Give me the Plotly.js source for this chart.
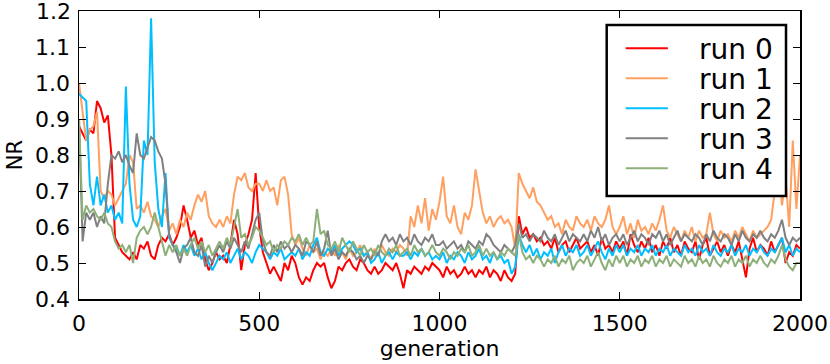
<!DOCTYPE html>
<html>
<head>
<meta charset="utf-8">
<script src="https://cdn.plot.ly/plotly-3.0.1.min.js"></script>
<style>
  html, body { margin: 0; padding: 0; background: #fff; }
  #myDiv { width: 830px; height: 364px; }
</style>
</head>
<body>
<div id="myDiv"></div>
<script>
// generation sampled every 10 steps (0 .. 2000)
var step = 10;
var generation = [];
for (var g = 0; g <= 2000; g += step) generation.push(g);

var runNames = ['run 0', 'run 1', 'run 2', 'run 3', 'run 4'];
var runColors = ['#ff0000', '#ffa060', '#00bfff', '#808080', '#8db07a'];
var xTicks = [0, 500, 1000, 1500, 2000];
var yTicks = [0.4, 0.5, 0.6, 0.7, 0.8, 0.9, 1.0, 1.1, 1.2];
var yTickText = ['0.4', '0.5', '0.6', '0.7', '0.8', '0.9', '1.0', '1.1', '1.2'];

var run0 = [
  0.88,0.86,0.84,0.87,0.86,0.95,0.93,0.89,0.91,0.80,
  0.57,0.55,0.53,0.52,0.51,0.53,0.51,0.55,0.54,0.56,
  0.52,0.51,0.55,0.57,0.56,0.58,0.55,0.57,0.60,0.66,
  0.62,0.57,0.59,0.55,0.57,0.51,0.48,0.50,0.53,0.51,
  0.52,0.50,0.55,0.62,0.58,0.48,0.55,0.58,0.62,0.75,
  0.60,0.53,0.50,0.47,0.49,0.47,0.45,0.50,0.48,0.52,
  0.50,0.46,0.44,0.46,0.45,0.48,0.50,0.49,0.50,0.46,
  0.43,0.45,0.49,0.48,0.50,0.51,0.49,0.48,0.51,0.50,
  0.48,0.47,0.49,0.47,0.48,0.50,0.49,0.48,0.50,0.47,
  0.43,0.48,0.47,0.49,0.48,0.47,0.49,0.48,0.50,0.49,
  0.48,0.46,0.49,0.47,0.48,0.46,0.47,0.49,0.47,0.48,
  0.46,0.48,0.47,0.49,0.46,0.48,0.47,0.45,0.48,0.46,
  0.45,0.47,0.63,0.58,0.60,0.57,0.58,0.56,0.57,0.55,
  0.56,0.54,0.57,0.53,0.55,0.56,0.53,0.55,0.57,0.54,
  0.55,0.56,0.53,0.55,0.52,0.57,0.54,0.55,0.53,0.56,
  0.54,0.56,0.52,0.58,0.55,0.53,0.56,0.54,0.57,0.53,
  0.55,0.52,0.56,0.54,0.57,0.53,0.55,0.52,0.56,0.54,
  0.53,0.56,0.51,0.55,0.57,0.52,0.54,0.56,0.53,0.55,
  0.52,0.55,0.53,0.56,0.51,0.46,0.54,0.57,0.53,0.55,
  0.54,0.52,0.56,0.53,0.55,0.57,0.50,0.53,0.52,0.55,
  0.54
];

var run1 = [
  1.00,0.92,0.84,0.87,0.88,0.92,0.70,0.68,0.70,0.69,
  0.66,0.68,0.70,0.72,0.80,0.78,0.65,0.66,0.64,0.67,
  0.63,0.62,0.60,0.63,0.65,0.59,0.61,0.58,0.62,0.60,
  0.64,0.62,0.66,0.69,0.67,0.70,0.63,0.61,0.60,0.62,
  0.60,0.63,0.61,0.69,0.74,0.73,0.75,0.71,0.70,0.72,
  0.72,0.70,0.73,0.70,0.71,0.66,0.73,0.74,0.69,0.58,
  0.55,0.57,0.54,0.52,0.55,0.53,0.54,0.51,0.53,0.52,
  0.54,0.52,0.55,0.53,0.51,0.54,0.52,0.53,0.55,0.52,
  0.53,0.51,0.54,0.52,0.55,0.53,0.52,0.54,0.53,0.55,
  0.54,0.52,0.63,0.60,0.66,0.61,0.68,0.59,0.65,0.62,
  0.67,0.74,0.63,0.61,0.66,0.60,0.58,0.64,0.62,0.66,
  0.76,0.70,0.64,0.61,0.63,0.60,0.62,0.63,0.61,0.62,
  0.60,0.54,0.75,0.72,0.70,0.68,0.71,0.67,0.66,0.64,
  0.62,0.63,0.60,0.61,0.58,0.62,0.60,0.59,0.63,0.61,
  0.60,0.62,0.59,0.63,0.61,0.60,0.62,0.66,0.60,0.58,
  0.60,0.63,0.58,0.61,0.57,0.62,0.59,0.60,0.58,0.61,
  0.59,0.62,0.66,0.59,0.57,0.60,0.58,0.56,0.59,0.57,
  0.60,0.56,0.59,0.57,0.58,0.64,0.58,0.56,0.59,0.57,
  0.58,0.56,0.59,0.57,0.60,0.58,0.56,0.59,0.57,0.58,
  0.59,0.60,0.62,0.70,0.78,0.66,0.74,0.60,0.84,0.65,
  0.80
];

var run2 = [
  0.97,0.96,0.95,0.72,0.66,0.74,0.66,0.69,0.64,0.66,
  0.62,0.64,0.61,0.99,0.72,0.62,0.60,0.63,0.84,0.80,
  1.18,0.78,0.65,0.60,0.75,0.57,0.55,0.54,0.52,0.55,
  0.53,0.55,0.52,0.54,0.51,0.53,0.50,0.48,0.50,0.52,
  0.51,0.53,0.50,0.52,0.54,0.51,0.53,0.52,0.50,0.53,
  0.55,0.54,0.53,0.51,0.53,0.52,0.54,0.51,0.52,0.53,
  0.52,0.54,0.51,0.53,0.52,0.55,0.57,0.53,0.52,0.54,
  0.53,0.55,0.52,0.54,0.55,0.56,0.55,0.53,0.54,0.52,
  0.53,0.50,0.51,0.53,0.50,0.52,0.53,0.51,0.53,0.52,
  0.52,0.53,0.51,0.53,0.52,0.54,0.52,0.53,0.51,0.52,
  0.51,0.53,0.50,0.52,0.51,0.53,0.52,0.50,0.53,0.51,
  0.52,0.54,0.51,0.52,0.50,0.53,0.51,0.52,0.50,0.51,
  0.47,0.49,0.58,0.55,0.53,0.55,0.52,0.54,0.51,0.53,
  0.52,0.54,0.50,0.53,0.55,0.52,0.54,0.53,0.55,0.52,
  0.53,0.55,0.52,0.54,0.56,0.53,0.51,0.54,0.52,0.55,
  0.53,0.55,0.52,0.54,0.53,0.55,0.52,0.54,0.53,0.55,
  0.52,0.54,0.53,0.55,0.52,0.54,0.53,0.52,0.55,0.53,
  0.54,0.52,0.55,0.53,0.54,0.52,0.55,0.53,0.52,0.54,
  0.53,0.55,0.52,0.54,0.53,0.55,0.52,0.54,0.53,0.55,
  0.53,0.52,0.54,0.53,0.55,0.57,0.53,0.55,0.52,0.54,
  0.53
];

var run3 = [
  0.90,0.56,0.64,0.62,0.64,0.60,0.63,0.61,0.72,0.80,
  0.79,0.81,0.78,0.80,0.77,0.75,0.86,0.80,0.79,0.82,
  0.85,0.84,0.81,0.79,0.72,0.58,0.55,0.53,0.50,0.54,
  0.55,0.57,0.53,0.52,0.55,0.49,0.52,0.50,0.53,0.55,
  0.53,0.56,0.54,0.57,0.55,0.53,0.56,0.54,0.58,0.62,
  0.64,0.56,0.53,0.52,0.55,0.53,0.56,0.54,0.55,0.53,
  0.55,0.54,0.52,0.56,0.55,0.53,0.56,0.52,0.54,0.59,
  0.52,0.54,0.51,0.53,0.52,0.54,0.53,0.51,0.52,0.50,
  0.52,0.51,0.53,0.52,0.56,0.58,0.56,0.57,0.55,0.58,
  0.56,0.57,0.55,0.58,0.56,0.55,0.57,0.56,0.58,0.55,
  0.55,0.56,0.54,0.55,0.56,0.54,0.55,0.53,0.56,0.55,
  0.54,0.56,0.55,0.58,0.57,0.55,0.54,0.53,0.55,0.54,
  0.53,0.55,0.61,0.57,0.58,0.56,0.58,0.57,0.56,0.59,
  0.57,0.56,0.58,0.55,0.57,0.59,0.56,0.58,0.57,0.56,
  0.58,0.56,0.59,0.57,0.60,0.56,0.58,0.55,0.57,0.58,
  0.56,0.58,0.55,0.57,0.59,0.56,0.58,0.57,0.55,0.58,
  0.57,0.59,0.56,0.58,0.55,0.57,0.59,0.56,0.58,0.57,
  0.56,0.58,0.57,0.55,0.58,0.56,0.59,0.57,0.56,0.58,
  0.57,0.55,0.58,0.56,0.59,0.57,0.56,0.58,0.57,0.59,
  0.57,0.56,0.58,0.57,0.59,0.62,0.57,0.55,0.57,0.56,
  0.57
];

var run4 = [
  0.90,0.62,0.66,0.64,0.65,0.63,0.62,0.64,0.61,0.60,
  0.56,0.54,0.55,0.53,0.55,0.50,0.57,0.59,0.60,0.58,
  0.60,0.64,0.60,0.56,0.52,0.55,0.53,0.55,0.52,0.54,
  0.52,0.55,0.57,0.54,0.56,0.53,0.55,0.52,0.54,0.56,
  0.54,0.57,0.55,0.60,0.65,0.57,0.58,0.55,0.57,0.60,
  0.59,0.57,0.55,0.56,0.53,0.55,0.54,0.56,0.55,0.57,
  0.56,0.58,0.55,0.57,0.55,0.56,0.65,0.58,0.59,0.55,
  0.54,0.56,0.53,0.57,0.55,0.53,0.56,0.54,0.52,0.55,
  0.53,0.54,0.52,0.55,0.53,0.52,0.54,0.53,0.55,0.52,
  0.53,0.54,0.52,0.55,0.53,0.54,0.52,0.53,0.55,0.53,
  0.52,0.54,0.53,0.51,0.53,0.52,0.54,0.53,0.55,0.52,
  0.53,0.55,0.52,0.54,0.52,0.53,0.51,0.53,0.52,0.54,
  0.53,0.52,0.58,0.53,0.51,0.52,0.50,0.52,0.51,0.49,
  0.51,0.50,0.52,0.49,0.51,0.50,0.52,0.48,0.50,0.51,
  0.50,0.52,0.49,0.51,0.53,0.50,0.48,0.51,0.49,0.52,
  0.50,0.52,0.49,0.51,0.50,0.52,0.49,0.51,0.50,0.52,
  0.49,0.51,0.50,0.52,0.49,0.51,0.50,0.49,0.52,0.50,
  0.51,0.49,0.52,0.50,0.51,0.49,0.52,0.50,0.49,0.51,
  0.50,0.52,0.49,0.51,0.50,0.52,0.49,0.51,0.50,0.52,
  0.50,0.49,0.51,0.50,0.52,0.55,0.51,0.49,0.48,0.50,
  0.50
];

var runs = [run0, run1, run2, run3, run4];

var data = runs.map(function (vals, i) {
  return {
    x: generation,
    y: vals,
    mode: 'lines',
    name: runNames[i],
    line: { color: runColors[i], width: 2 }
  };
});

// legend box drawn by hand (matplotlib style: line sample, wide gap, big text)
var legBox = { x0: 0.7319, x1: 0.9806, y0: 0.3576, y1: 0.9514 };
var legRowY = [0.8705, 0.7663, 0.6622, 0.5580, 0.4538];
var shapes = [{
  type: 'rect', xref: 'paper', yref: 'paper',
  x0: legBox.x0, x1: legBox.x1, y0: legBox.y0, y1: legBox.y1,
  fillcolor: '#fff', line: { color: '#000', width: 2.5 }, layer: 'above'
}];
var annotations = [];
runNames.forEach(function (name, i) {
  shapes.push({
    type: 'line', xref: 'paper', yref: 'paper',
    x0: 0.7583, x1: 0.8167, y0: legRowY[i], y1: legRowY[i],
    line: { color: runColors[i], width: 2 }, layer: 'above'
  });
  annotations.push({
    xref: 'paper', yref: 'paper', x: 0.857, y: legRowY[i] - 0.004,
    xanchor: 'left', yanchor: 'middle', showarrow: false,
    text: name, font: { size: 28, color: '#000' }
  });
});

// the top y tick label sits at the very edge of the figure, where plotly
// drops it; draw it as an annotation on the same tick value instead
var topTick = yTicks.length - 1;
annotations.push({
  xref: 'paper', yref: 'y', x: 0, y: yTicks[topTick],
  xanchor: 'right', yanchor: 'middle', xshift: -6, showarrow: false,
  text: yTickText[topTick], font: { size: 22, color: '#000' }
});
var yTickShown = yTickText.map(function (t, i) { return i === topTick ? '' : t; });

var axisCommon = {
  showline: true,
  linecolor: '#000',
  linewidth: 1.5,
  mirror: 'ticks',
  ticks: 'inside',
  ticklen: 7,
  tickwidth: 1,
  tickcolor: '#000',
  showgrid: false,
  zeroline: false,
  tickfont: { size: 22, color: '#000' }
};

var layout = {
  width: 830,
  height: 364,
  margin: { l: 79, r: 30, t: 11, b: 65 },
  paper_bgcolor: '#fff',
  plot_bgcolor: '#fff',
  font: { family: 'DejaVu Sans, sans-serif', color: '#000' },
  showlegend: false,
  shapes: shapes,
  annotations: annotations,
  xaxis: Object.assign({}, axisCommon, {
    range: [0, 2000],
    tickmode: 'array',
    tickvals: xTicks,
    ticklabelstandoff: 4,
    title: { text: 'generation', font: { size: 22 }, standoff: 4 }
  }),
  yaxis: Object.assign({}, axisCommon, {
    range: [0.4, 1.2],
    tickmode: 'array',
    tickvals: yTicks,
    ticktext: yTickShown,
    ticklabelstandoff: 3,
    title: { text: 'NR', font: { size: 21 }, standoff: 6 }
  })
};

Plotly.newPlot('myDiv', data, layout, { displayModeBar: false, staticPlot: true });
</script>
</body>
</html>
